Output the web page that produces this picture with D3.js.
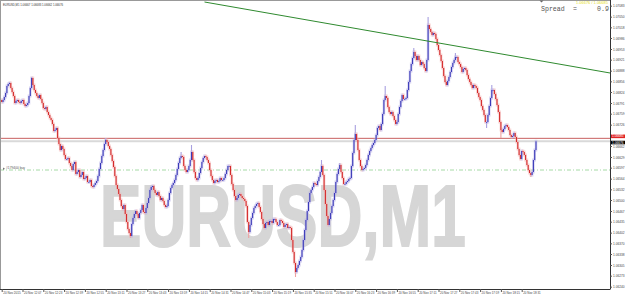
<!DOCTYPE html>
<html><head><meta charset="utf-8">
<script src="https://cdn.jsdelivr.net/npm/d3@7"></script>
<style>
html,body{margin:0;padding:0;background:#fff;overflow:hidden}
svg{display:block}
</style></head>
<body>
<script>
// ---- data ----
const symbol = "EURUSD,M1";
const titleText = "EURUSD,M1  1.06667 1.06683 1.06662 1.06676";
// M1 closes, one per minute starting 20 Nov 2015 11:51
const closes = [
1.06794,1.06800,1.06809,1.06821,1.06842,1.06848,1.06851,1.06836,1.06824,1.06812,
1.06791,1.06797,1.06800,1.06794,1.06791,1.06797,1.06800,1.06788,1.06782,1.06785,
1.06791,1.06812,1.06836,1.06866,1.06845,1.06830,1.06821,1.06812,1.06806,1.06815,
1.06803,1.06791,1.06776,1.06773,1.06779,1.06764,1.06755,1.06746,1.06740,1.06728,
1.06707,1.06710,1.06716,1.06686,1.06668,1.06650,1.06662,1.06653,1.06635,1.06623,
1.06623,1.06626,1.06611,1.06602,1.06590,1.06608,1.06614,1.06578,1.06584,1.06590,
1.06569,1.06575,1.06584,1.06563,1.06566,1.06572,1.06554,1.06554,1.06560,1.06542,
1.06539,1.06545,1.06551,1.06557,1.06572,1.06593,1.06611,1.06632,1.06650,1.06668,
1.06680,1.06674,1.06662,1.06653,1.06635,1.06617,1.06599,1.06572,1.06545,1.06533,
1.06518,1.06500,1.06482,1.06473,1.06485,1.06458,1.06434,1.06413,1.06401,1.06392,
1.06428,1.06446,1.06458,1.06467,1.06458,1.06446,1.06461,1.06470,1.06485,1.06464,
1.06461,1.06476,1.06491,1.06506,1.06530,1.06539,1.06542,1.06530,1.06521,1.06515,
1.06524,1.06512,1.06500,1.06506,1.06497,1.06485,1.06479,1.06482,1.06500,1.06521,
1.06536,1.06545,1.06551,1.06560,1.06575,1.06593,1.06611,1.06626,1.06632,1.06629,
1.06602,1.06590,1.06584,1.06590,1.06602,1.06620,1.06644,1.06620,1.06584,1.06566,
1.06560,1.06566,1.06581,1.06596,1.06614,1.06626,1.06632,1.06629,1.06620,1.06611,
1.06590,1.06572,1.06560,1.06551,1.06557,1.06560,1.06554,1.06557,1.06566,1.06560,
1.06560,1.06566,1.06578,1.06590,1.06602,1.06602,1.06575,1.06548,1.06530,1.06512,
1.06500,1.06506,1.06515,1.06518,1.06512,1.06506,1.06503,1.06497,1.06482,1.06434,
1.06404,1.06425,1.06446,1.06461,1.06476,1.06482,1.06488,1.06491,1.06479,1.06464,
1.06443,1.06428,1.06416,1.06431,1.06434,1.06425,1.06437,1.06437,1.06431,1.06443,
1.06443,1.06434,1.06425,1.06425,1.06440,1.06437,1.06431,1.06419,1.06425,1.06428,
1.06416,1.06419,1.06416,1.06380,1.06344,1.06311,1.06284,1.06296,1.06305,1.06317,
1.06329,1.06350,1.06380,1.06410,1.06440,1.06467,1.06494,1.06521,1.06530,1.06539,
1.06551,1.06548,1.06545,1.06557,1.06569,1.06584,1.06602,1.06575,1.06530,1.06488,
1.06452,1.06425,1.06443,1.06461,1.06482,1.06500,1.06521,1.06554,1.06578,1.06593,
1.06605,1.06584,1.06566,1.06548,1.06548,1.06554,1.06557,1.06563,1.06566,1.06602,
1.06641,1.06680,1.06698,1.06680,1.06650,1.06620,1.06602,1.06590,1.06593,1.06596,
1.06605,1.06620,1.06635,1.06647,1.06656,1.06665,1.06671,1.06680,1.06695,1.06716,
1.06722,1.06710,1.06728,1.06758,1.06800,1.06812,1.06806,1.06779,1.06764,1.06758,
1.06764,1.06752,1.06740,1.06728,1.06734,1.06758,1.06779,1.06797,1.06815,1.06803,
1.06803,1.06806,1.06830,1.06854,1.06887,1.06908,1.06926,1.06944,1.06932,1.06920,
1.06932,1.06920,1.06905,1.06914,1.06908,1.06896,1.06887,1.06920,1.07025,1.07013,
1.07004,1.06995,1.07001,1.06998,1.06983,1.06965,1.06950,1.06935,1.06917,1.06896,
1.06872,1.06854,1.06845,1.06857,1.06869,1.06884,1.06899,1.06911,1.06920,1.06929,
1.06929,1.06914,1.06908,1.06899,1.06884,1.06893,1.06896,1.06890,1.06875,1.06863,
1.06854,1.06845,1.06836,1.06845,1.06842,1.06836,1.06821,1.06809,1.06800,1.06782,
1.06770,1.06755,1.06734,1.06734,1.06755,1.06782,1.06806,1.06830,1.06830,1.06818,
1.06803,1.06785,1.06764,1.06734,1.06710,1.06704,1.06713,1.06722,1.06725,1.06719,
1.06710,1.06695,1.06689,1.06692,1.06701,1.06689,1.06674,1.06653,1.06635,1.06623,
1.06647,1.06644,1.06635,1.06620,1.06605,1.06590,1.06581,1.06575,1.06584,1.06620,
1.06650,1.06676
];
const firstOpen = 1.06800;
// candles whose wick reaches well beyond the body: minute index and wick extreme
const wickIdx   = [6, 23, 80, 99, 138, 146, 190, 226, 246, 260, 272, 295, 317, 328, 349, 373, 377, 384, 407];
const wickPrice = [1.06854, 1.06869, 1.06686, 1.06386, 1.06644, 1.06665, 1.06386, 1.06269, 1.06620, 1.06611, 1.06725, 1.06842, 1.06956, 1.07049, 1.06941, 1.06716, 1.06845, 1.06686, 1.06569];
const xLabelMinutes = [0,16,32,48,64,80,96,112,128,144,160,176,192,208,224,240,256,272,288,304,320,336,352,368,384,400];
const xLabels = ["20 Nov 2015","20 Nov 12:07","20 Nov 12:23","20 Nov 12:39","20 Nov 12:55","20 Nov 13:11","20 Nov 13:27","20 Nov 13:43","20 Nov 13:59","20 Nov 14:15","20 Nov 14:31","20 Nov 14:47","20 Nov 15:03","20 Nov 15:19","20 Nov 15:35","20 Nov 15:51","20 Nov 16:07","20 Nov 16:23","20 Nov 16:39","20 Nov 16:55","20 Nov 17:11","20 Nov 17:27","20 Nov 17:43","20 Nov 17:59","20 Nov 18:15","20 Nov 18:31"];
const yTicks = [1.07083,1.07050,1.07018,1.06986,1.06953,1.06921,1.06888,1.06856,1.06824,1.06791,1.06759,1.06726,1.06694,1.06662,1.06629,1.06597,1.06564,1.06532,1.06500,1.06467,1.06435,1.06402,1.06370,1.06338,1.06305,1.06273,1.06240];
const askPrice = 1.06685;
const bidPrice = 1.06676;
const buyOrder = {label:"#179400 buy", price:1.06590};
const trendIdx = [156, 468];
const trendPrice = [1.07094, 1.06881];
const spreadValue = "0.9";

// ---- drawing ----
const W = 625, H = 296;
const FONT = "Liberation Sans, Arial, sans-serif";
const svg = d3.select("body").append("svg").attr("width", W).attr("height", H);
const plotR = 610, plotB = 289;
const x = d3.scaleLinear().domain([0, 467]).range([1.7, 608.8]);
const y = d3.scaleLinear().domain([1.06233, 1.07100]).range([plotB, 0]);

svg.append("rect").attr("width", W).attr("height", H).attr("fill", "#fff");

svg.append("defs").append("clipPath").attr("id","pc")
  .append("rect").attr("x",0).attr("y",0).attr("width",plotR).attr("height",plotB);
const plot = svg.append("g").attr("clip-path","url(#pc)");

// fit a text to a given width by horizontal scaling (keeps its real box honest)
function fitText(sel, x0, yb, width) {
  const natural = sel.node().getComputedTextLength();
  sel.attr("x", 0).attr("y", 0)
     .attr("transform", `translate(${x0},${yb}) scale(${width / natural},1)`);
  return sel;
}

// watermark
const wm = plot.append("text")
  .attr("font-family", FONT).attr("font-weight", "bold").attr("font-size", 88)
  .attr("fill", "#d6d6d6").attr("stroke", "#d6d6d6").attr("stroke-width", 2).text(symbol);
fitText(wm, 100, 246, 366);

// horizontal lines
plot.append("line").attr("x1",0).attr("x2",plotR).attr("y1",y(bidPrice)).attr("y2",y(bidPrice))
  .attr("stroke","#d9d9d9").attr("stroke-width",2);
plot.append("line").attr("x1",0).attr("x2",plotR).attr("y1",y(askPrice)).attr("y2",y(askPrice))
  .attr("stroke","#c86060").attr("stroke-width",1);
plot.append("line").attr("x1",0).attr("x2",plotR).attr("y1",y(buyOrder.price)).attr("y2",y(buyOrder.price))
  .attr("stroke","#8fd08f").attr("stroke-width",0.8).attr("stroke-dasharray","4,2,1,2");
const by = y(buyOrder.price);
plot.append("path").attr("d", `M3,${by-2.5}L5,${by-1.2}L3,${by}Z`).attr("fill","#777");
fitText(plot.append("text").attr("font-family",FONT).attr("font-size",3.2).attr("fill","#555").text(buyOrder.label), 6, by-0.6, 19);

// candles
const candles = closes.map((c, i) => ({i, o: i === 0 ? firstOpen : closes[i-1], c}));
const cg = plot.append("g");
const wicks = wickIdx.map((idx, k) => ({i: idx, p: wickPrice[k], o: candles[idx].o, c: candles[idx].c}));
cg.selectAll("line.wick").data(wicks).join("line").attr("class","wick")
  .attr("x1", d => x(d.i)).attr("x2", d => x(d.i))
  .attr("y1", d => y(d.p))
  .attr("y2", d => d.p > Math.max(d.o, d.c) ? y(Math.max(d.o, d.c)) : y(Math.min(d.o, d.c)))
  .attr("stroke", d => d.c >= d.o ? "#a8a0e0" : "#eea0a0").attr("stroke-width", 1.1);
cg.selectAll("rect.halo").data(candles).join("rect").attr("class","halo")
  .attr("x", d => x(d.i) - 1.3).attr("width", 2.6)
  .attr("y", d => y(Math.max(d.o, d.c)) - 1.5)
  .attr("height", d => Math.abs(y(d.o) - y(d.c)) + 3)
  .attr("fill", d => d.c >= d.o ? "#b8b0e8" : "#f2b4b4").attr("opacity", 0.55);
cg.selectAll("rect.body").data(candles).join("rect").attr("class","body")
  .attr("x", d => x(d.i) - 0.55).attr("width", 1.1)
  .attr("y", d => y(Math.max(d.o, d.c)))
  .attr("height", d => Math.max(0.8, Math.abs(y(d.o) - y(d.c))))
  .attr("fill", d => d.c >= d.o ? "#3a3ab8" : "#d42a2a");

// trendline
plot.append("line").attr("x1", x(trendIdx[0])).attr("y1", y(trendPrice[0]))
  .attr("x2", x(trendIdx[1])).attr("y2", y(trendPrice[1]))
  .attr("stroke","#2f8a2f").attr("stroke-width",1);

// frame
svg.append("line").attr("x1",0.5).attr("x2",0.5).attr("y1",0).attr("y2",plotB).attr("stroke","#999");
svg.append("line").attr("x1",0).attr("x2",plotR).attr("y1",0.5).attr("y2",0.5).attr("stroke","#999");

// axes (labels hidden where the live price labels sit, as in the terminal)
const shownTicks = yTicks.filter(t => Math.abs(y(t) - y(askPrice)) > 4 && Math.abs(y(t) - y(bidPrice)) > 4.5);
const yAxis = svg.append("g").attr("transform", `translate(${plotR},0)`)
  .call(d3.axisRight(y).tickValues(shownTicks).tickSize(2).tickFormat(d3.format(".5f")))
  .attr("font-size", 3.6).attr("font-family", FONT);
yAxis.select(".domain").attr("stroke","#333").attr("d", `M0.5,0V${plotB}`);
yAxis.selectAll(".tick line").attr("stroke","#555");
yAxis.selectAll(".tick text").attr("x",3).attr("dy","0.35em").attr("font-size",3.6).attr("font-family",FONT)
  .attr("textLength",11.5).attr("lengthAdjust","spacingAndGlyphs").attr("fill","#444");

const xAxis = svg.append("g").attr("transform", `translate(0,${plotB})`)
  .call(d3.axisBottom(x).tickValues(xLabelMinutes).tickSize(3).tickFormat((d,i) => xLabels[i]))
  .attr("font-size", 3.3).attr("font-family", FONT);
xAxis.select(".domain").attr("stroke","#333").attr("d", `M0,0.5H${plotR+0.5}`);
xAxis.selectAll(".tick line").attr("stroke","#555");
xAxis.selectAll(".tick text").attr("x",1).attr("y",2.2).attr("dy","0.71em").attr("text-anchor","start")
  .attr("font-size",3.3).attr("font-family",FONT)
  .attr("textLength",17.5).attr("lengthAdjust","spacingAndGlyphs").attr("fill","#444");

// price labels
[[askPrice,"#e02424", -3.8],[bidPrice,"#000", -0.6]].forEach(([p,col,off]) => {
  const yy = y(p) + off;
  svg.append("rect").attr("x", plotR+1).attr("y", yy).attr("width", 14).attr("height", 3.6).attr("fill", col);
  svg.append("text").attr("x", plotR+2).attr("y", yy+2.9).attr("font-size",3.2).attr("font-family",FONT)
    .attr("textLength",11.5).attr("lengthAdjust","spacingAndGlyphs").attr("fill","#fff").text(d3.format(".5f")(p));
});

// title
fitText(svg.append("text").attr("font-family",FONT).attr("font-size",3.4).attr("fill","#333").text(titleText), 3, 6.3, 60);

// spread info
const MONO = "Liberation Mono, Courier New, monospace";
svg.append("text").attr("x",541).attr("y",11).attr("font-family",MONO).attr("font-size",6.6).attr("fill","#555").text("Spread");
svg.append("text").attr("x",573).attr("y",11).attr("font-family",MONO).attr("font-size",6.6).attr("fill","#555").text("=");
svg.append("text").attr("x",597).attr("y",11).attr("font-family",MONO).attr("font-size",6.6).attr("fill","#555").text(spreadValue);
fitText(svg.append("text").attr("font-family",FONT).attr("font-size",2.8).attr("fill","#e6e020").text("1.06676 / 1.06685"), 576, 3.9, 32);
svg.append("path").attr("d","M539.5,0.5L543.5,0.5L541.5,2.5Z").attr("fill","#666");
</script>
</body></html>
